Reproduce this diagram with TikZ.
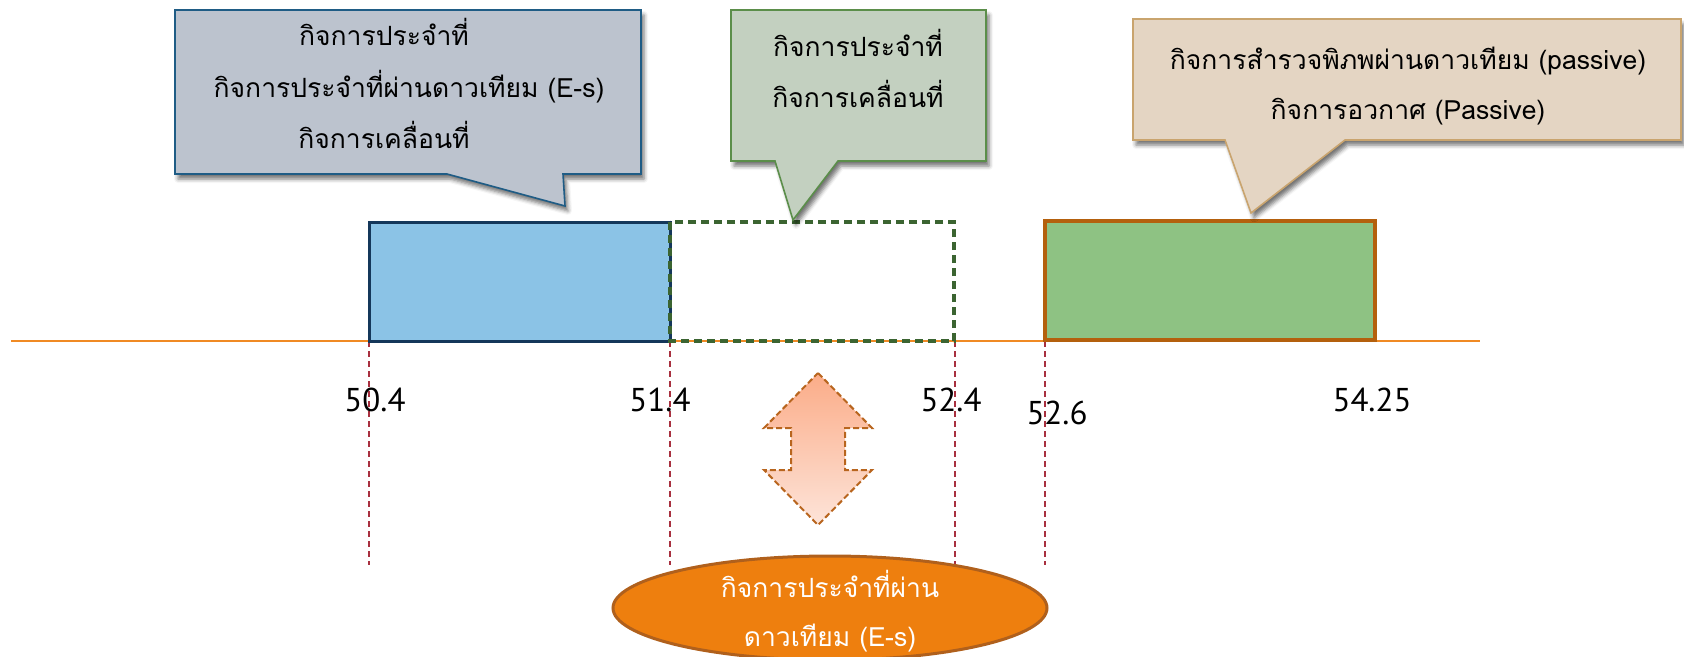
\documentclass[tikz,border=0pt]{standalone}
\usepackage{fontspec}
\setmainfont{PT Sans}
\newfontfamily\thaifont[Script=Thai]{Loma}
\usetikzlibrary{shapes.geometric,shadows.blur}
\definecolor{cOneFill}{HTML}{BCC3CE}
\definecolor{cOneLine}{HTML}{1F5C85}
\definecolor{cTwoFill}{HTML}{C3D0C0}
\definecolor{cTwoLine}{HTML}{5B8E4A}
\definecolor{cThreeFill}{HTML}{E4D5C3}
\definecolor{cThreeLine}{HTML}{C9A46E}
\definecolor{blueFill}{HTML}{8BC3E6}
\definecolor{blueLine}{HTML}{14375A}
\definecolor{dashGreen}{HTML}{3B6431}
\definecolor{greenFill}{HTML}{8EC283}
\definecolor{greenLine}{HTML}{B4600D}
\definecolor{axisOrange}{HTML}{F08A24}
\definecolor{guideRed}{HTML}{A8303F}
\definecolor{arrTop}{HTML}{FBAC88}
\definecolor{arrBot}{HTML}{FDE4D9}
\definecolor{arrLine}{HTML}{B8651E}
\definecolor{ellFill}{HTML}{EE7F0E}
\definecolor{ellLine}{HTML}{B0601C}
\tikzset{
  shadowed/.style={blur shadow={shadow xshift=3pt,shadow yshift=-5pt,shadow opacity=55,shadow blur radius=4pt}},
  thaitext/.style={font=\thaifont\fontsize{26.5}{30}\selectfont, text=black, inner sep=0pt, anchor=base},
  numtext/.style={font=\fontsize{33}{36}\selectfont, text=black, inner sep=0pt, anchor=base},
  guide/.style={draw=guideRed, line width=1.2pt, dash pattern=on 6pt off 4pt},
}
\begin{document}
\begin{tikzpicture}[x=1pt,y=-1pt]
\useasboundingbox (0,0) rectangle (1684,656);
% axis
\coordinate (axL) at (11,341);
\coordinate (axR) at (1480,341);
\draw[axisOrange, line width=1.6pt] (axL) -- (axR);
% guide lines
\foreach \gx/\gn in {369/ga,670/gb,955/gc,1045/gd}{
  \coordinate (\gn top) at (\gx,341);
  \coordinate (\gn bot) at (\gx,565);
  \draw[guide] (\gn top) -- (\gn bot);
}
% boxes
\draw[fill=blueFill, draw=blueLine, line width=3pt] (369,222) rectangle (670,341);
\draw[draw=dashGreen, line width=3.2pt, dash pattern=on 8pt off 5pt] (670,222) rectangle (954,341);
\draw[fill=greenFill, draw=greenLine, line width=3.5pt] (1045,221) rectangle (1375,340);
% callouts
\draw[shadowed, fill=cOneFill, draw=cOneLine, line width=1.6pt]
  (175,10) -- (641,10) -- (641,174) -- (563,174) -- (565,206) -- (447,174) -- (175,174) -- cycle;
\draw[shadowed, fill=cTwoFill, draw=cTwoLine, line width=1.6pt]
  (731,10) -- (986,10) -- (986,161) -- (838,161) -- (793,220) -- (775,161) -- (731,161) -- cycle;
\draw[shadowed, fill=cThreeFill, draw=cThreeLine, line width=1.6pt]
  (1133,19) -- (1681,19) -- (1681,140) -- (1345,140) -- (1251,213) -- (1225,140) -- (1133,140) -- cycle;
% callout texts
\node[thaitext] (t1a) at (384,45) {กิจการประจำที่};
\node[thaitext] (t1b) at (409,97) {กิจการประจำที่ผ่านดาวเทียม (E-s)};
\node[thaitext] (t1c) at (384,148) {กิจการเคลื่อนที่};
\node[thaitext] (t2a) at (858,56) {กิจการประจำที่};
\node[thaitext] (t2b) at (858,107) {กิจการเคลื่อนที่};
\node[thaitext] (t3a) at (1408,69) {กิจการสำรวจพิภพผ่านดาวเทียม (passive)};
\node[thaitext] (t3b) at (1408,119) {กิจการอวกาศ (Passive)};
% numbers
\node[numtext] (n1) at (375,411) {50.4};
\node[numtext] (n2) at (660,411) {51.4};
\node[numtext] (n3) at (951,411) {52.4};
\node[numtext] (n4) at (1057,424) {52.6};
\node[numtext] (n5) at (1372,411) {54.25};
% double arrow
\draw[top color=arrTop, bottom color=arrBot, draw=arrLine, line width=2pt, dash pattern=on 6pt off 3pt]
  (818,373) -- (872,428) -- (845,428) -- (845,470) -- (872,470) -- (818,525)
  -- (764,470) -- (791,470) -- (791,428) -- (764,428) -- cycle;
% ellipse
\node[ellipse, fill=ellFill, draw=ellLine, line width=3pt, minimum width=434pt, minimum height=104pt, inner sep=0pt] (ell) at (830,608) {};
\node[thaitext, text=white] (e1) at (830,597) {กิจการประจำที่ผ่าน};
\node[thaitext, text=white] (e2) at (830,646) {ดาวเทียม (E-s)};
\end{tikzpicture}
\end{document}
